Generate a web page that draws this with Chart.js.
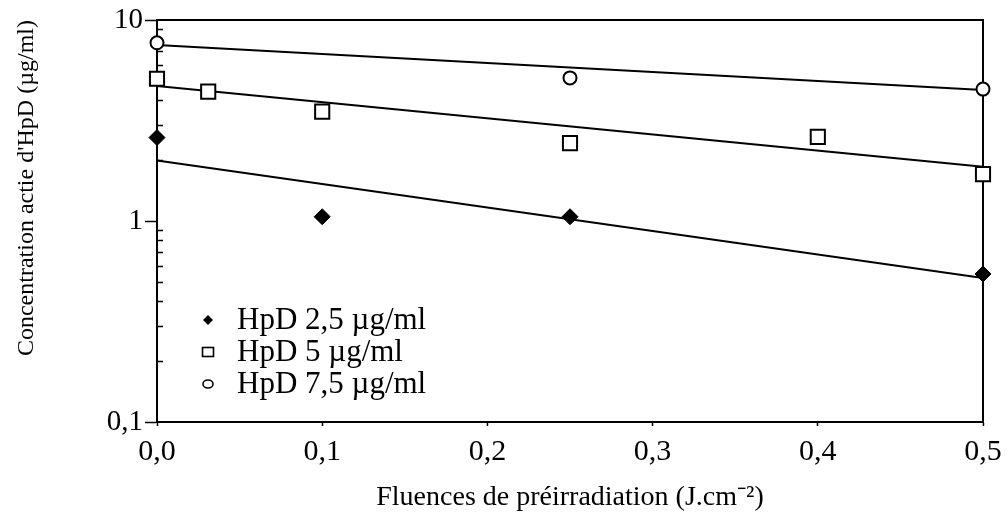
<!DOCTYPE html>
<html>
<head>
<meta charset="utf-8">
<script src="https://cdn.jsdelivr.net/npm/chart.js@4/dist/chart.umd.min.js"></script>
<style>
  html, body { margin: 0; padding: 0; background: #fff; }
  #wrap { width: 1007px; height: 525px; }
</style>
</head>
<body>
<div id="wrap"><canvas id="chart"></canvas></div>
<script>
// values
const xHpd25 = [0, 0.1, 0.25, 0.5];
const yHpd25 = [2.6, 1.05, 1.05, 0.545];
const xHpd5 = [0, 0.031, 0.1, 0.25, 0.4, 0.5];
const yHpd5 = [5.1, 4.4, 3.5, 2.44, 2.62, 1.71];
const xHpd75 = [0, 0.25, 0.5];
const yHpd75 = [7.7, 5.15, 4.53];

// fitted lines (ends)
const fitX = [0, 0.5];
const fit25 = [2.0, 0.52];
const fit5 = [4.7, 1.86];
const fit75 = [7.5, 4.49];

const yTicks = [0.1, 1, 10];
const yMinor = [0.2, 0.3, 0.4, 0.5, 0.6, 0.7, 0.8, 0.9, 2, 3, 4, 5, 6, 7, 8, 9];
const legendLabels = ['HpD 2,5 \u00b5g/ml', 'HpD 5 \u00b5g/ml', 'HpD 7,5 \u00b5g/ml'];

const serif = "'Liberation Serif', 'Times New Roman', serif";

function pts(xs, ys) {
    return xs.map((x, i) => ({x: x, y: ys[i]}));
}

function fitLine(ys) {
    return {
        type: 'line',
        data: pts(fitX, ys),
        borderColor: '#000',
        borderWidth: 2,
        pointRadius: 0,
        fill: false,
        clip: false,
        order: 2
    };
}

// frame + minor ticks on y (inside)
const framePlugin = {
    id: 'frame',
    beforeDatasetsDraw(chart) {
        const {ctx, chartArea: a, scales} = chart;
        ctx.save();
        ctx.strokeStyle = '#000';
        ctx.lineWidth = 2;
        ctx.strokeRect(a.left, a.top, a.right - a.left, a.bottom - a.top);
        ctx.beginPath();
        yMinor.forEach(v => {
            const y = Math.round(scales.y.getPixelForValue(v)) + 0.5;
            ctx.moveTo(a.left, y);
            ctx.lineTo(a.left + 6, y);
        });
        ctx.lineWidth = 1.5;
        ctx.stroke();
        ctx.restore();
    }
};

// legend drawn inside the plot
const legendPlugin = {
    id: 'innerLegend',
    afterDraw(chart) {
        const {ctx, chartArea: a} = chart;
        const mx = a.left + 51;
        const tx = a.left + 80;
        const rows = [a.top + 300, a.top + 332, a.top + 364];
        ctx.save();
        ctx.fillStyle = '#000';
        ctx.strokeStyle = '#000';
        ctx.lineWidth = 1.6;
        // diamond
        ctx.beginPath();
        ctx.moveTo(mx, rows[0] - 5);
        ctx.lineTo(mx + 5, rows[0]);
        ctx.lineTo(mx, rows[0] + 5);
        ctx.lineTo(mx - 5, rows[0]);
        ctx.closePath();
        ctx.fill();
        // square
        ctx.strokeRect(mx - 5.5, rows[1] - 4.5, 11, 9);
        // circle
        ctx.beginPath();
        ctx.ellipse(mx, rows[2], 5, 4, 0, 0, Math.PI * 2);
        ctx.stroke();
        ctx.font = '31px ' + serif;
        ctx.textBaseline = 'middle';
        legendLabels.forEach((t, i) => ctx.fillText(t, tx, rows[i] + 1));
        ctx.restore();
    }
};

const ctx = document.getElementById('chart').getContext('2d');
new Chart(ctx, {
    type: 'scatter',
    data: {
        datasets: [
            {
                label: legendLabels[0],
                data: pts(xHpd25, yHpd25),
                pointStyle: 'rectRot',
                pointRadius: 8,
                backgroundColor: '#000',
                borderColor: '#000',
                borderWidth: 1,
                clip: false,
                order: 1
            },
            {
                label: legendLabels[1],
                data: pts(xHpd5, yHpd5),
                pointStyle: 'rect',
                pointRadius: 10,
                backgroundColor: '#fff',
                borderColor: '#000',
                borderWidth: 2,
                clip: false,
                order: 1
            },
            {
                label: legendLabels[2],
                data: pts(xHpd75, yHpd75),
                pointStyle: 'circle',
                pointRadius: 6.5,
                backgroundColor: '#fff',
                borderColor: '#000',
                borderWidth: 2,
                clip: false,
                order: 1
            },
            fitLine(fit25),
            fitLine(fit5),
            fitLine(fit75)
        ]
    },
    options: {
        responsive: true,
        maintainAspectRatio: false,
        animation: false,
        layout: {padding: {top: 20, right: 24, left: 0, bottom: 0}},
        plugins: {
            legend: {display: false},
            tooltip: {enabled: false}
        },
        scales: {
            x: {
                type: 'linear',
                min: 0,
                max: 0.5,
                afterFit: s => { s.height = 103; s.paddingRight = 20; s.paddingLeft = 0; },
                ticks: {
                    stepSize: 0.1,
                    color: '#000',
                    font: {family: serif, size: 30},
                    padding: 8,
                    callback: v => v.toFixed(1).replace('.', ',')
                },
                grid: {drawOnChartArea: false, color: '#000', tickLength: 4, tickWidth: 1.5},
                border: {color: '#000', width: 2},
                title: {
                    display: true,
                    text: 'Fluences de pr\u00e9irradiation (J.cm\u207b\u00b2)',
                    color: '#000',
                    font: {family: serif, size: 28},
                    padding: {top: 0, bottom: 11}
                }
            },
            y: {
                type: 'logarithmic',
                min: 0.1,
                max: 10,
                afterFit: s => { s.width = 157; },
                afterBuildTicks: s => { s.ticks = yTicks.map(v => ({value: v, major: true})); },
                ticks: {
                    color: '#000',
                    font: {family: serif, size: 29},
                    padding: 2,
                    callback: v => String(v).replace('.', ',')
                },
                grid: {drawOnChartArea: false, color: '#000', tickLength: 12, tickWidth: 1.5},
                border: {color: '#000', width: 2},
                title: {
                    display: true,
                    text: "Concentration actie d'HpD (\u00b5g/ml)",
                    color: '#000',
                    align: 'end',
                    font: {family: serif, size: 24},
                    padding: {top: 12, bottom: 0}
                }
            }
        }
    },
    plugins: [framePlugin, legendPlugin]
});
</script>
</body>
</html>
